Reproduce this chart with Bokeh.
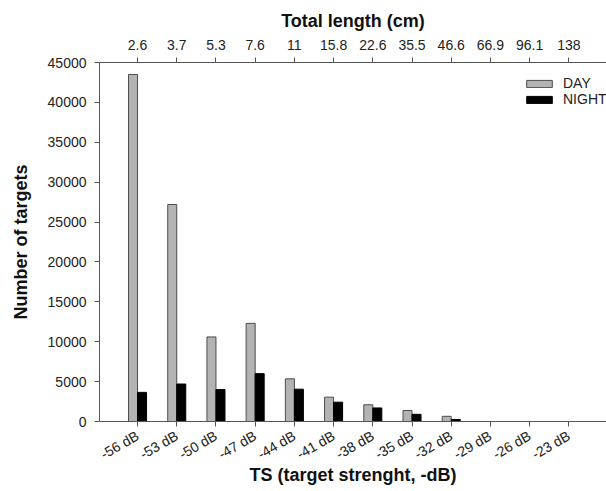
import math
import numpy as np
from bokeh.plotting import figure
from bokeh.models import Range1d, LinearAxis, FixedTicker, Legend, LegendItem
from bokeh.embed import file_html
from bokeh.resources import INLINE

# ---- data ----
ts_labels = ["-56 dB", "-53 dB", "-50 dB", "-47 dB", "-44 dB", "-41 dB",
             "-38 dB", "-35 dB", "-32 dB", "-29 dB", "-26 dB", "-23 dB"]
length_labels = ["2.6", "3.7", "5.3", "7.6", "11", "15.8",
                 "22.6", "35.5", "46.6", "66.9", "96.1", "138"]
day = [43500, 27200, 10600, 12300, 5350, 3050, 2100, 1380, 650, 0, 0, 0]
night = [3650, 4700, 4000, 6000, 4050, 2420, 1700, 900, 250, 0, 0, 0]

FONT = "Liberation Sans"
TXT = "#222222"
AX = "#555555"

idx = np.arange(len(ts_labels))
bw = 0.23

p = figure(width=606, height=491,
           x_range=Range1d(-0.97, 11.96), y_range=Range1d(0, 45000),
           output_backend="svg", toolbar_location=None,
           min_border_left=99, min_border_right=0,
           min_border_top=62, min_border_bottom=70)
p.background_fill_color = "white"
p.border_fill_color = "white"
p.outline_line_color = None
p.xgrid.visible = False
p.ygrid.visible = False

r_day = p.vbar(x=idx - bw / 2, top=day, width=bw, bottom=0,
               fill_color="#b3b3b3", line_color="#4d4d4d", line_width=1)
r_night = p.vbar(x=idx + bw / 2, top=night, width=bw, bottom=0,
                 fill_color="#000000", line_color="#000000", line_width=1)

def style_axis(ax):
    ax.axis_line_color = AX
    ax.major_tick_line_color = AX
    ax.minor_tick_line_color = None
    ax.major_tick_in = 0
    ax.major_tick_out = 5
    ax.major_label_text_font = FONT
    ax.major_label_text_font_size = "14px"
    ax.major_label_text_color = TXT
    ax.axis_label_text_font = FONT
    ax.axis_label_text_font_size = "18px"
    ax.axis_label_text_font_style = "bold"
    ax.axis_label_text_color = "#111111"

# bottom axis
xb = p.xaxis[0]
xb.ticker = FixedTicker(ticks=list(idx))
xb.major_label_overrides = {int(i): s for i, s in zip(idx, ts_labels)}
xb.major_label_orientation = math.radians(30)
xb.axis_label = "TS (target strenght, -dB)"
style_axis(xb)
xb.major_label_standoff = 8
xb.axis_label_standoff = -7

# left axis
yl = p.yaxis[0]
yl.ticker = FixedTicker(ticks=list(range(0, 45001, 5000)))
yl.axis_label = "Number of targets"
style_axis(yl)
yl.major_label_standoff = 8
yl.axis_label_standoff = 14

# top axis
xt = LinearAxis(ticker=FixedTicker(ticks=list(idx)),
                major_label_overrides={int(i): s for i, s in zip(idx, length_labels)},
                axis_label="Total length (cm)")
style_axis(xt)
xt.major_label_standoff = 8
xt.axis_label_standoff = 6
p.add_layout(xt, "above")

legend = Legend(items=[LegendItem(label="DAY", renderers=[r_day]),
                       LegendItem(label="NIGHT", renderers=[r_night])],
                location=(424, 314))
legend.glyph_width = 32
legend.glyph_height = 9
legend.label_height = 16
legend.label_standoff = 8
legend.spacing = 0
legend.padding = 0
legend.margin = 0
legend.border_line_color = None
legend.background_fill_alpha = 0
legend.label_text_font = FONT
legend.label_text_font_size = "14px"
legend.label_text_color = TXT
p.add_layout(legend)

open("out.html", "w").write(file_html(p, INLINE))
